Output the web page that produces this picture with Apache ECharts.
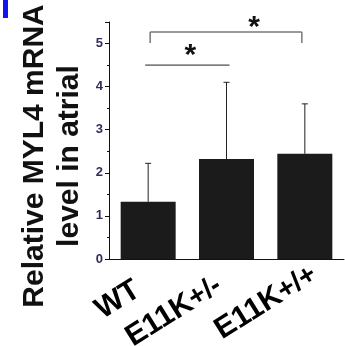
<!DOCTYPE html>
<html>
<head>
<meta charset="utf-8">
<script src="https://cdn.jsdelivr.net/npm/echarts@6/dist/echarts.min.js"></script>
<style>
html,body{margin:0;padding:0;background:#fff;}
#chart{width:345px;height:346px;}
</style>
</head>
<body>
<div id="chart"></div>
<script>
// ---- data ----
const categories = ['WT', 'E11K+/-', 'E11K+/+'];
const means = [1.33, 2.32, 2.44];
const errors = [0.89, 1.78, 1.16];
const yTickValues = [0, 1, 2, 3, 4, 5];
const sigFrom = [0, 0];
const sigTo = [1, 2];
const sigLevel = [4.5, 5.27];
const sigMark = ['*', '*'];
const yTitle = ['Relative MYL4 mRNA', 'level in atrial'];

// ---- layout constants ----
const FONT = 'Liberation Sans, Arial, sans-serif';
const labelPadding = [[5, 14, 0, 0], [1, 9, 0, 0], [0, -11, 0, 0]];
const sigStyle = [
  { bracket: false, dx1: -3, dx2: 3, color: '#222', width: 1, starDx: 3, starDy: -15 },
  { bracket: true, dx1: 2, dx2: -3, color: '#777', width: 1.5, starDx: 28, starDy: -10, drop: 11 }
];

const chart = echarts.init(document.getElementById('chart'), null, { renderer: 'canvas' });

const xData = categories.map((c, i) => ({ value: c, textStyle: { padding: labelPadding[i] } }));

const option = {
  backgroundColor: '#fff',
  animation: false,
  grid: { left: 109, right: 1, top: 22, bottom: 87, containLabel: false, outerBoundsMode: 'none' },
  xAxis: {
    type: 'category',
    data: xData,
    axisLine: { lineStyle: { color: '#111', width: 1 } },
    axisTick: { show: false },
    axisLabel: {
      interval: 0,
      rotate: 32,
      align: 'right',
      verticalAlign: 'middle',
      margin: 19,
      color: '#000',
      hideOverlap: false,
      formatter: function (v) {
        const m = v.match(/^(E11K)(.*)$/);
        if (m) return '{m|' + m[1] + '}{s|' + m[2] + '}';
        return '{m|' + v + '}';
      },
      rich: {
        m: { fontSize: 30, fontWeight: 'bold', fontFamily: FONT, color: '#000', verticalAlign: 'middle' },
        s: { fontSize: 28, fontWeight: 'bold', fontFamily: FONT, color: '#000', verticalAlign: 'middle' }
      }
    }
  },
  yAxis: {
    type: 'value',
    min: 0,
    max: 5.5,
    interval: 1,
    axisLine: { show: true, lineStyle: { color: '#111', width: 1 } },
    axisTick: { show: true, length: 4, lineStyle: { color: '#111' } },
    minorTick: { show: true, splitNumber: 2, length: 2, lineStyle: { color: '#111' } },
    splitLine: { show: false },
    axisLabel: {
      margin: 6,
      fontSize: 13,
      fontWeight: 'bold',
      fontFamily: FONT,
      color: '#2f2c5a',
      showMaxLabel: false,
      formatter: function (v) { return yTickValues.indexOf(v) >= 0 ? String(v) : ''; }
    }
  },
  graphic: [
    { type: 'rect', shape: { x: 3, y: 0, width: 5, height: 18 }, style: { fill: '#1414f0' } },
    {
      type: 'text', x: 52, y: 156, rotation: Math.PI / 2,
      style: {
        text: yTitle.join('\n'), font: 'bold 30px ' + FONT, fill: '#111',
        align: 'center', verticalAlign: 'middle', lineHeight: 35
      }
    }
  ],
  series: [
    {
      type: 'bar',
      data: means,
      barWidth: 55,
      itemStyle: { color: '#1b1b1b' },
      z: 2
    },
    {
      type: 'custom',
      data: means.map((m, i) => [i, m, m + errors[i]]),
      z: 3,
      renderItem: function (params, api) {
        const i = api.value(0);
        const p0 = api.coord([i, api.value(1)]);
        const p1 = api.coord([i, api.value(2)]);
        const cw = 3;
        return {
          type: 'group',
          children: [
            { type: 'line', shape: { x1: p0[0], y1: p0[1], x2: p1[0], y2: p1[1] }, style: { stroke: '#222', lineWidth: 1 } },
            { type: 'line', shape: { x1: p1[0] - cw, y1: p1[1], x2: p1[0] + cw, y2: p1[1] }, style: { stroke: '#222', lineWidth: 1 } }
          ]
        };
      }
    },
    {
      type: 'custom',
      data: sigFrom.map((f, i) => [f, sigTo[i], sigLevel[i]]),
      z: 4,
      renderItem: function (params, api) {
        const k = params.dataIndex;
        const st = sigStyle[k];
        const a = api.coord([api.value(0), api.value(2)]);
        const b = api.coord([api.value(1), api.value(2)]);
        const x1 = a[0] + st.dx1, x2 = b[0] + st.dx2, y = a[1];
        const children = [
          { type: 'line', shape: { x1: x1, y1: y, x2: x2, y2: y }, style: { stroke: st.color, lineWidth: st.width } }
        ];
        if (st.bracket) {
          children.push({ type: 'line', shape: { x1: x1, y1: y, x2: x1, y2: y + st.drop }, style: { stroke: st.color, lineWidth: st.width } });
          children.push({ type: 'line', shape: { x1: x2, y1: y, x2: x2, y2: y + st.drop }, style: { stroke: st.color, lineWidth: st.width } });
        }
        children.push({
          type: 'text',
          x: (x1 + x2) / 2 + st.starDx,
          y: y + st.starDy + 6,
          style: { text: sigMark[k], font: 'bold 30px ' + FONT, fill: '#111', align: 'center', verticalAlign: 'middle' }
        });
        return { type: 'group', children: children };
      }
    }
  ]
};
chart.setOption(option);
</script>
</body>
</html>
